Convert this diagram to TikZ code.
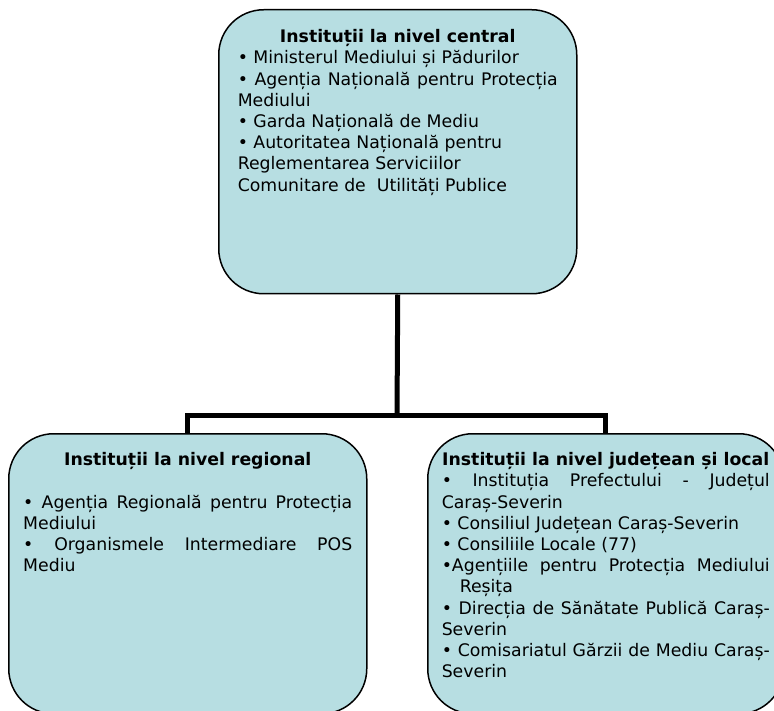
\documentclass[tikz,border=0pt]{standalone}
\usepackage{fontspec}
\setmainfont{DejaVu Sans}
\usepackage{xcolor}
\definecolor{lightteal}{RGB}{183,222,226}

\tikzset{
    inst/.style={draw, line width=1.5pt, rounded corners=45pt, fill=lightteal,
        anchor=north west, inner ysep=0pt, align=justify,
        font=\fontsize{17.3pt}{21.2pt}\selectfont},
    link/.style={line width=5pt}
}

\begin{document}
\begin{tikzpicture}[x=1pt, y=-1pt]
    \useasboundingbox (0,0) rectangle (774,711);
    \clip (0,0) rectangle (774,711);

    \node[inst, text width=320pt, minimum width=358pt, text height=33pt, text depth=251pt] (central) at (218,9) {%
        {\centering\textbf{Instituții la nivel central}\par}
        • Ministerul Mediului și Pădurilor\par
        • Agenția Națională pentru Protecția\linebreak Mediului\par
        • Garda Națională de Mediu\par
        • Autoritatea Națională pentru\\ Reglementarea Serviciilor\\ Comunitare de~ Utilități Publice};
    \node[inst, text width=329pt, minimum width=358pt, text height=32pt, text depth=248pt] (regional) at (8,433) {%
        {\centering\textbf{Instituții la nivel regional}\par}
        \vspace{\baselineskip}
        • Agenția Regională pentru Protecția\linebreak Mediului\par
        • Organismele Intermediare POS\linebreak Mediu};
    \node[inst, text width=328pt, minimum width=356pt, text height=32pt, text depth=248pt] (local) at (427,433) {%
        {\centering\textbf{Instituții la nivel județean și local}\par}
        • Instituția Prefectului - Județul\linebreak Caraș-Severin\par
        • Consiliul Județean Caraș-Severin\par
        • Consiliile Locale (77)\par
        •Agențiile pentru Protecția Mediului\linebreak\hspace*{18pt}Reșița\par
        • Direcția de Sănătate Publică Caraș-\linebreak Severin\par
        • Comisariatul Gărzii de Mediu Caraș-\linebreak Severin};

    \coordinate (split) at (397,415);
    \draw[link] (central.south) -- (split);
    \draw[link] (regional.north) |- (split) -| (local.north);
\end{tikzpicture}
\end{document}
